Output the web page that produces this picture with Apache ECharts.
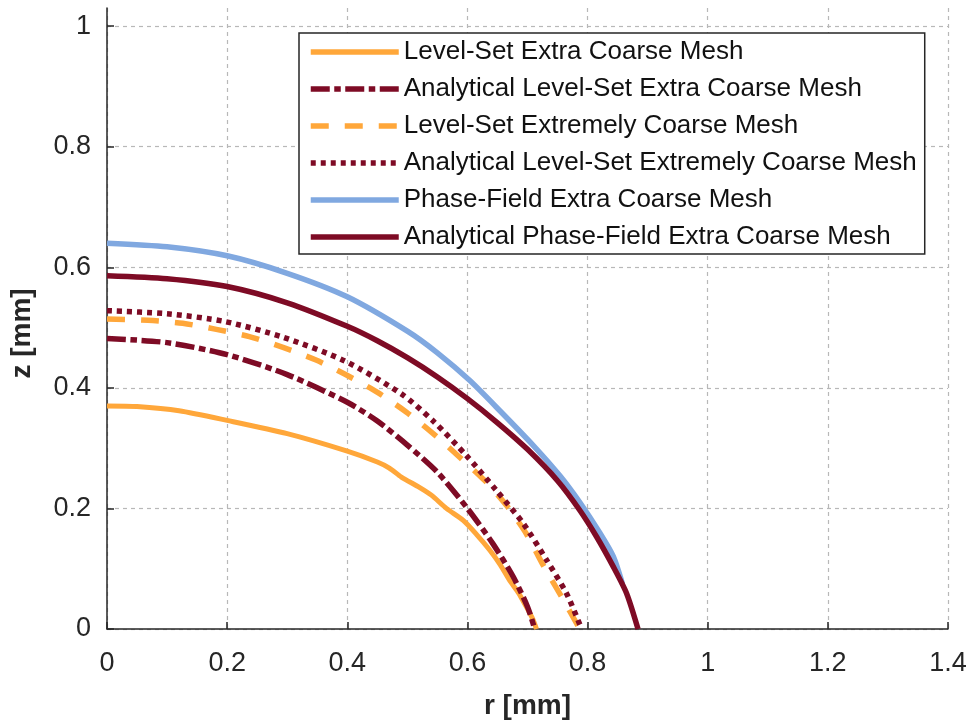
<!DOCTYPE html>
<html>
<head>
<meta charset="utf-8">
<title>Droplet profile</title>
<script src="https://cdn.jsdelivr.net/npm/echarts@6/dist/echarts.min.js"></script>
<style>
  html, body { margin: 0; padding: 0; background: #ffffff; }
  #chart { width: 973px; height: 720px; }
</style>
</head>
<body>
<div id="chart"></div>
<script>
// Interface profiles z(r), in mm
const seriesNames = [
  'Level-Set Extra Coarse Mesh',
  'Analytical Level-Set Extra Coarse Mesh',
  'Level-Set Extremely Coarse Mesh',
  'Analytical Level-Set Extremely Coarse Mesh',
  'Phase-Field Extra Coarse Mesh',
  'Analytical Phase-Field Extra Coarse Mesh'
];

const lsExtraR = [0, 0.05, 0.12, 0.2, 0.3, 0.4, 0.45, 0.47, 0.49, 0.52, 0.54, 0.565, 0.593, 0.615, 0.637, 0.655, 0.67, 0.685, 0.698, 0.708, 0.715];
const lsExtraZ = [0.37, 0.369, 0.362, 0.346, 0.324, 0.295, 0.277, 0.267, 0.252, 0.235, 0.222, 0.2, 0.18, 0.157, 0.131, 0.106, 0.081, 0.06, 0.037, 0.018, 0];

const anLsExtraR = [0, 0.1, 0.2, 0.3, 0.4, 0.45, 0.5, 0.55, 0.6, 0.642, 0.676, 0.7, 0.712];
const anLsExtraZ = [0.482, 0.475, 0.455, 0.422, 0.376, 0.345, 0.305, 0.26, 0.2, 0.142, 0.087, 0.037, 0];

const lsExtremeR = [0, 0.068, 0.126, 0.182, 0.237, 0.293, 0.348, 0.401, 0.451, 0.498, 0.543, 0.587, 0.629, 0.665, 0.698, 0.726, 0.757, 0.787];
const lsExtremeZ = [0.514, 0.512, 0.507, 0.497, 0.485, 0.467, 0.446, 0.42, 0.392, 0.36, 0.324, 0.285, 0.246, 0.205, 0.158, 0.106, 0.053, 0];

const anLsExtremeR = [0, 0.1, 0.196, 0.293, 0.395, 0.49, 0.543, 0.598, 0.648, 0.693, 0.732, 0.765, 0.79];
const anLsExtremeZ = [0.528, 0.523, 0.51, 0.484, 0.445, 0.39, 0.345, 0.288, 0.23, 0.175, 0.114, 0.059, 0];

const pfExtraR = [0, 0.1, 0.2, 0.3, 0.4, 0.5, 0.55, 0.604, 0.654, 0.709, 0.754, 0.787, 0.82, 0.843, 0.858];
const pfExtraZ = [0.64, 0.634, 0.619, 0.59, 0.551, 0.494, 0.458, 0.412, 0.362, 0.305, 0.254, 0.21, 0.16, 0.12, 0.075];

const anPfExtraR = [0, 0.1, 0.2, 0.3, 0.4, 0.45, 0.5, 0.55, 0.6, 0.65, 0.7, 0.75, 0.787, 0.815, 0.843, 0.865, 0.884];
const anPfExtraZ = [0.586, 0.581, 0.568, 0.541, 0.502, 0.478, 0.45, 0.418, 0.382, 0.342, 0.298, 0.246, 0.197, 0.153, 0.103, 0.059, 0];

// Axis ranges and tick step
const rRange = [0, 1.4];
const zRange = [0, 1.03];
const tickStep = 0.2;

function pairs(rs, zs) {
  return rs.map((r, i) => [r, zs[i]]);
}

const ORANGE = '#FFA73A';
const DARKRED = '#7E0B25';
const BLUE = '#80A8E0';
const AXIS = '#262626';
const FONT = '"Liberation Sans", Arial, Helvetica, sans-serif';

function lineSeries(name, rs, zs, color, type, width) {
  return {
    name: name,
    type: 'line',
    data: pairs(rs, zs),
    showSymbol: false,
    symbol: 'none',
    smooth: 0.25,
    animation: false,
    lineStyle: { color: color, width: width, type: type, cap: 'butt' },
    itemStyle: { color: color }
  };
}

const chart = echarts.init(document.getElementById('chart'), null, { renderer: 'canvas' });

chart.setOption({
  backgroundColor: '#ffffff',
  animation: false,
  grid: { left: 107, right: 25, top: 8, bottom: 91, containLabel: false, outerBoundsMode: 'none' },
  legend: {
    orient: 'vertical',
    left: 299,
    top: 33,
    padding: [5, 8, 3, 9],
    itemWidth: 88,
    itemHeight: 14,
    itemGap: 9,
    backgroundColor: '#ffffff',
    borderColor: AXIS,
    borderWidth: 1.5,
    borderRadius: 0,
    selectedMode: false,
    data: seriesNames,
    itemStyle: { opacity: 0 },
    lineStyle: { width: 5.5 },
    textStyle: { fontFamily: FONT, fontSize: 26, color: '#111111', lineHeight: 28 }
  },
  xAxis: {
    type: 'value',
    min: rRange[0],
    max: rRange[1],
    interval: tickStep,
    name: 'r [mm]',
    nameLocation: 'middle',
    nameGap: 63,
    nameTextStyle: { fontFamily: FONT, fontSize: 28, fontWeight: 'bold', color: AXIS },
    axisLine: { show: true, onZero: false, lineStyle: { color: AXIS, width: 1.5 } },
    axisTick: { show: true, inside: true, length: 7, lineStyle: { color: AXIS, width: 1.5 } },
    axisLabel: { fontFamily: FONT, fontSize: 27, color: AXIS, margin: 21 },
    splitLine: { show: true, lineStyle: { color: '#b8b8b8', width: 1.2, type: [4, 4] } }
  },
  yAxis: {
    type: 'value',
    min: zRange[0],
    max: zRange[1],
    interval: tickStep,
    name: 'z [mm]',
    nameLocation: 'middle',
    nameGap: 71,
    nameTextStyle: { fontFamily: FONT, fontSize: 28, fontWeight: 'bold', color: AXIS, padding: [0, 30, 0, 0] },
    axisLine: { show: true, onZero: false, lineStyle: { color: AXIS, width: 1.5 } },
    axisTick: { show: true, inside: true, length: 7, lineStyle: { color: AXIS, width: 1.5 } },
    axisLabel: { fontFamily: FONT, fontSize: 27, color: AXIS, margin: 16, showMaxLabel: false },
    splitLine: { show: true, showMaxLine: false, lineStyle: { color: '#b8b8b8', width: 1.2, type: [4, 4] } }
  },
  series: [
    lineSeries(seriesNames[0], lsExtraR, lsExtraZ, ORANGE, 'solid', 5),
    lineSeries(seriesNames[1], anLsExtraR, anLsExtraZ, DARKRED, [19, 4.5, 6.5, 4.5], 5.5),
    lineSeries(seriesNames[2], lsExtremeR, lsExtremeZ, ORANGE, [18, 16], 5.5),
    lineSeries(seriesNames[3], anLsExtremeR, anLsExtremeZ, DARKRED, [5, 5], 5.5),
    lineSeries(seriesNames[4], pfExtraR, pfExtraZ, BLUE, 'solid', 5.5),
    lineSeries(seriesNames[5], anPfExtraR, anPfExtraZ, DARKRED, 'solid', 5.5)
  ]
});
</script>
</body>
</html>
